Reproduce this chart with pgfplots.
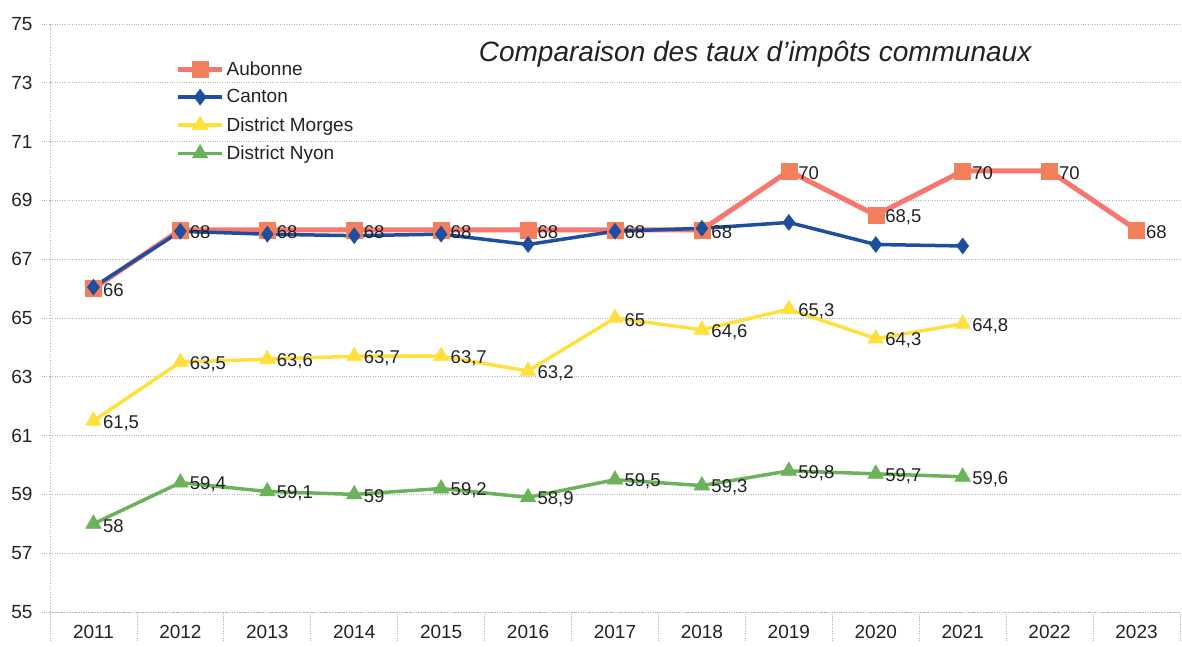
\documentclass[border=0pt]{standalone}
\usepackage{pgfplots}
\pgfplotsset{compat=1.18}
\usepackage{fontspec}
\setmainfont{Liberation Sans}
\definecolor{aubline}{HTML}{F7766E}
\definecolor{aubmark}{HTML}{F47F5C}
\definecolor{canton}{HTML}{1E4F9E}
\definecolor{morges}{HTML}{FFE03C}
\definecolor{nyon}{HTML}{6CB25A}
\definecolor{gridc}{HTML}{B4B4B4}
\definecolor{txt}{HTML}{222222}
\begin{document}
\begin{tikzpicture}
\begin{axis}[
  at={(0,0)}, anchor=south west,
  scale only axis, width=1130bp, height=588bp,
  xmin=-0.5, xmax=12.5, ymin=55, ymax=75,
  xtick={0,...,12},
  xticklabels={2011,2012,2013,2014,2015,2016,2017,2018,2019,2020,2021,2022,2023},
  ytick={55,57,...,75},
  minor xtick={-0.5,0.5,...,12.5},
  tick align=outside,
  major tick length=8bp,
  minor tick length=28bp,
  major x tick style={draw=none},
  minor x tick style={draw=gridc, dotted, line width=0.8bp},
  major y tick style={draw=gridc, dotted, line width=0.8bp},
  axis lines*=left,
  axis line style={draw=gridc, dotted, line width=0.8bp},
  ymajorgrids,
  major grid style={draw=gridc, dotted, line width=0.8bp},
  /pgf/number format/assume math mode=true,
  tick label style={font=\fontsize{19bp}{22bp}\selectfont, text=txt},
  x tick label style={yshift=-2bp},
  y tick label style={xshift=-6bp},
  legend style={at={(rel axis cs:0.111,0.94)}, anchor=north west, draw=none, fill=none,
    font=\fontsize{19bp}{22bp}\selectfont, text=txt, row sep=9bp, inner sep=0pt,
    /tikz/every even column/.append style={column sep=4bp}},
  legend cell align=left,
  legend image code/.code={\draw[mark repeat=2,mark phase=2] plot coordinates {(0bp,0bp) (22bp,0bp) (44bp,0bp)};},
  every node near coord/.append style={font=\fontsize{18.5bp}{22bp}\selectfont, text=txt, anchor=west, xshift=6bp, yshift=-2bp},
  nodes near coords align={horizontal},
  clip=false,
]
\addplot[color=aubline, line width=5bp, mark=square*, mark size=8bp, mark options={fill=aubmark, draw=aubmark, line width=0.5bp},
  nodes near coords={\pgfmathprintnumber[use comma]{\pgfplotspointmeta}}, point meta=y]
  coordinates {(0,66)(1,68)(2,68)(3,68)(4,68)(5,68)(6,68)(7,68)(8,70)(9,68.5)(10,70)(11,70)(12,68)};
\addlegendentry{Aubonne}
\addplot[color=canton, line width=3.5bp, mark=diamond*, mark size=8bp, mark options={fill=canton, draw=canton, line width=0.5bp}]
  coordinates {(0,66.05)(1,67.95)(2,67.85)(3,67.8)(4,67.85)(5,67.5)(6,67.95)(7,68.05)(8,68.25)(9,67.5)(10,67.45)};
\addlegendentry{Canton}
\addplot[color=morges, line width=3.5bp, mark=triangle*, mark size=9bp, mark options={fill=morges, draw=morges, line width=0.5bp},
  nodes near coords={\pgfmathprintnumber[use comma]{\pgfplotspointmeta}}, point meta=y]
  coordinates {(0,61.5)(1,63.5)(2,63.6)(3,63.7)(4,63.7)(5,63.2)(6,65)(7,64.6)(8,65.3)(9,64.3)(10,64.8)};
\addlegendentry{District Morges}
\addplot[color=nyon, line width=3.5bp, mark=triangle*, mark size=9bp, mark options={fill=nyon, draw=nyon, line width=0.5bp},
  nodes near coords={\pgfmathprintnumber[use comma]{\pgfplotspointmeta}}, point meta=y]
  coordinates {(0,58)(1,59.4)(2,59.1)(3,59)(4,59.2)(5,58.9)(6,59.5)(7,59.3)(8,59.8)(9,59.7)(10,59.6)};
\addlegendentry{District Nyon}
\node[font=\fontsize{28bp}{31bp}\selectfont\itshape, text=txt] at (rel axis cs:0.624,0.948) {Comparaison des taux d'impôts communaux};
\end{axis}
\pgfresetboundingbox
\path (-50bp,-35bp) rectangle (1132bp,612bp);
\end{tikzpicture}
\end{document}
